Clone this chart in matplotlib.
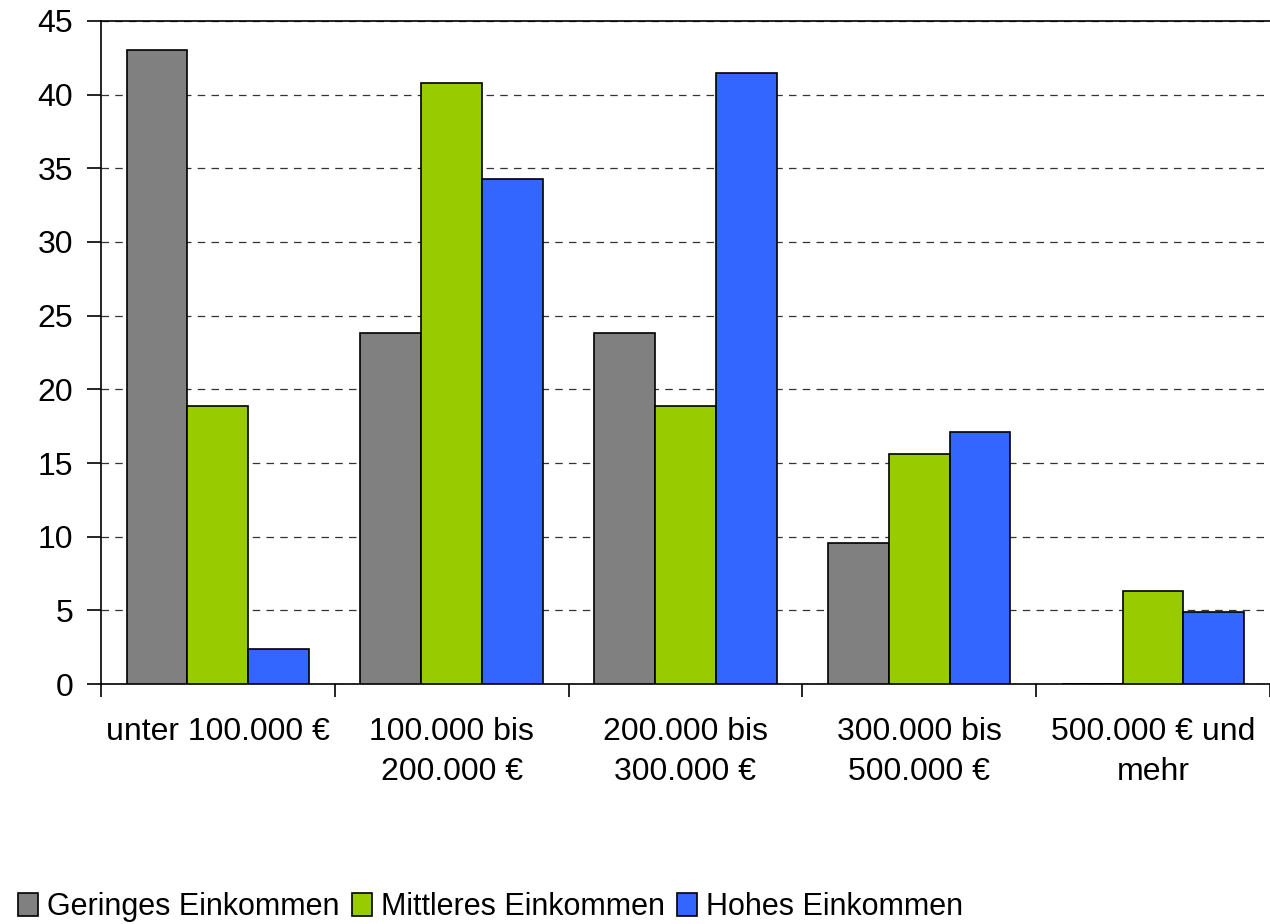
import numpy as np
import matplotlib
matplotlib.use('Agg')
from matplotlib import pyplot as plt

plt.rcParams['font.family'] = ['Liberation Sans', 'DejaVu Sans']

categories = ['unter 100.000 €', '100.000 bis\n200.000 €', '200.000 bis\n300.000 €',
              '300.000 bis\n500.000 €', '500.000 € und\nmehr']
series = ['Geringes Einkommen', 'Mittleres Einkommen', 'Hohes Einkommen']
geringes = [43.0, 23.8, 23.8, 9.6, 0.0]
mittleres = [18.9, 40.8, 18.9, 15.6, 6.3]
hohes = [2.4, 34.3, 41.5, 17.1, 4.9]
colors = ['#808080', '#99CC00', '#3366FF']

fig = plt.figure(figsize=(12.7, 9.24), dpi=100)
ax = fig.add_axes([0.0795, 0.2597, 0.9205, 0.7176])

x = np.arange(len(categories))
w = 0.26
for i, (vals, name, c) in enumerate(zip([geringes, mittleres, hohes], series, colors)):
    ax.bar(x + (i - 1) * w, vals, w, color=c, edgecolor='black', linewidth=1.2,
           label=name, zorder=3)

ax.set_xlim(-0.5, len(categories) - 0.5)
ax.set_ylim(0, 45)
ax.set_yticks(np.arange(0, 46, 5))
ax.yaxis.grid(True, linestyle=(0, (6, 5)), color='#333333', linewidth=0.9, zorder=0)

ax.set_xticks(x)
ax.set_xticklabels(categories, fontsize=23, linespacing=1.4)
ax.set_xticks(np.arange(-0.5, len(categories), 1), minor=True)
ax.tick_params(axis='x', which='major', length=0, pad=24)
ax.tick_params(axis='x', which='minor', length=9, width=1.2, direction='out')
ax.tick_params(axis='y', labelsize=23, length=10, width=1.2, pad=10)

for s in ['left', 'bottom', 'top']:
    ax.spines[s].set_linewidth(1.2)
ax.spines['right'].set_visible(False)

fig.legend(loc='lower left', bbox_to_anchor=(0.0, -0.018), ncol=3, frameon=False,
           fontsize=22, handlelength=0.65, handleheight=0.75, handletextpad=0.3,
           columnspacing=0.4, borderaxespad=0.2)

fig.savefig('out.png', dpi=100)
